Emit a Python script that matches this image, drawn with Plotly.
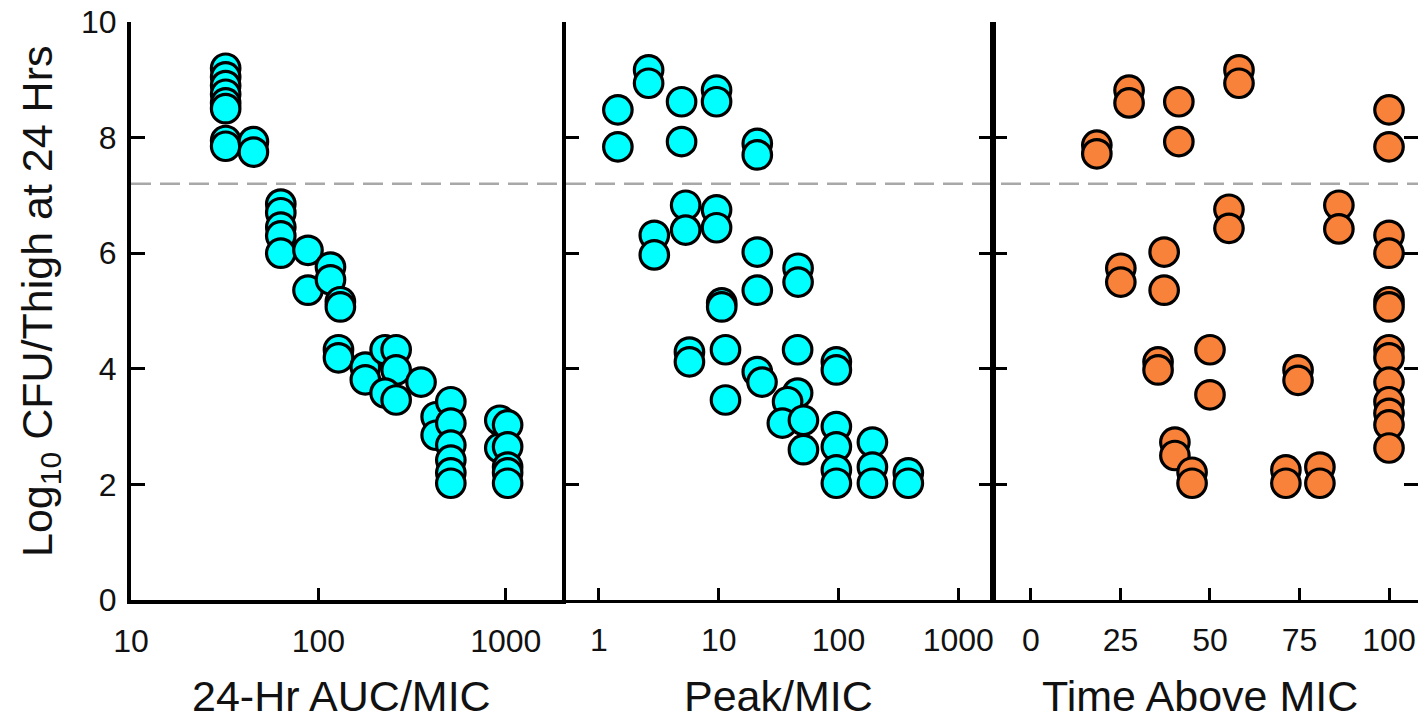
import plotly.graph_objects as go

# 24-Hr AUC/MIC panel
auc_x = [32, 32, 32, 32, 32, 32, 32, 32, 45, 45, 63, 63, 63, 63, 63, 88, 88, 116, 116,
         131, 131, 128, 128, 178, 178, 227, 260, 260, 227, 260, 353, 425, 425,
         509, 509, 509, 509, 509, 509, 929, 929, 1023, 1023, 1023, 1023, 1023]
auc_y = [9.2, 9.05, 8.9, 8.75, 8.6, 8.5, 7.95, 7.85, 7.93, 7.75, 6.85, 6.7, 6.45, 6.3, 6.0,
         6.05, 5.36, 5.76, 5.54, 5.16, 5.07, 4.33, 4.19, 4.03, 3.81, 4.33, 4.33, 3.98, 3.58,
         3.46, 3.77, 3.17, 2.85, 3.43, 3.06, 2.68, 2.42, 2.2, 2.02, 3.11, 2.63,
         3.03, 2.65, 2.3, 2.2, 2.02]

# Peak/MIC panel
peak_x = [1.44, 1.44, 2.6, 2.6, 4.9, 4.9, 9.6, 9.6, 21, 21, 5.3, 5.3, 2.9, 2.9, 9.6, 9.6,
          21, 21, 46, 46, 10.6, 10.6, 5.7, 5.7, 11.4, 11.4, 21, 23, 45.6, 45.6,
          37.6, 34, 51, 51, 96, 96, 96, 96, 96, 96, 192, 192, 192, 383, 383]
peak_y = [8.48, 7.84, 9.17, 8.94, 8.62, 7.93, 8.82, 8.62, 7.9, 7.7, 6.83, 6.4, 6.31, 5.97,
          6.75, 6.44, 6.02, 5.36, 5.74, 5.5, 5.14, 5.07, 4.29, 4.12, 4.33, 3.46, 3.95, 3.77,
          4.33, 3.58, 3.43, 3.06, 3.11, 2.6, 4.12, 3.98, 3.0, 2.65, 2.25, 2.02,
          2.73, 2.3, 2.02, 2.2, 2.02]

# Time Above MIC panel (%)
tam_x = [18.4, 18.4, 27.4, 27.4, 41.3, 41.3, 58.1, 58.1, 100, 100, 55.3, 55.3, 86, 86,
         100, 100, 25.1, 25.1, 37.2, 37.2, 100, 100, 35.5, 35.5, 50, 50, 74.6, 74.6,
         40.2, 40.2, 45, 45, 71.2, 71.2, 80.7, 80.7, 100, 100, 100, 100, 100, 100, 100]
tam_y = [7.87, 7.72, 8.82, 8.6, 8.62, 7.93, 9.17, 8.94, 8.48, 7.84, 6.76, 6.43, 6.83, 6.42,
         6.31, 6.0, 5.74, 5.5, 6.02, 5.36, 5.16, 5.07, 4.12, 3.98, 4.33, 3.55, 3.98, 3.8,
         2.73, 2.5, 2.21, 2.02, 2.25, 2.02, 2.3, 2.02, 4.33, 4.19, 3.77, 3.43, 3.23, 3.03, 2.63]

stasis_level = 7.2

y_ticks = [0, 2, 4, 6, 8, 10]
auc_ticks = [10, 100, 1000]
peak_ticks = [1, 10, 100, 1000]
tam_ticks = [0, 25, 50, 75, 100]

x_titles = ["24-Hr AUC/MIC", "Peak/MIC", "Time Above MIC"]
y_title = "Log<sub>10</sub> CFU/Thigh at 24 Hrs"

W, H = 1418, 725
FONT = "Liberation Sans, Arial, sans-serif"
INK = "#111111"
CYAN = "#00FFFF"
ORANGE = "#F9823A"

def px(v):
    return v / W

def py(v):
    return (H - v) / H

y_dom = [py(600), py(22)]
dom1 = [px(131), px(562)]
dom2 = [px(565), px(993)]
dom3 = [px(993), 1.0]

marker_base = dict(size=28.5, line=dict(color="black", width=3.2))

fig = go.Figure()
fig.add_trace(go.Scatter(x=auc_x, y=auc_y, mode="markers", xaxis="x", yaxis="y",
                         marker=dict(color=CYAN, **marker_base), hoverinfo="x+y"))
fig.add_trace(go.Scatter(x=peak_x, y=peak_y, mode="markers", xaxis="x2", yaxis="y2",
                         marker=dict(color=CYAN, **marker_base), hoverinfo="x+y"))
fig.add_trace(go.Scatter(x=tam_x, y=tam_y, mode="markers", xaxis="x3", yaxis="y3",
                         marker=dict(color=ORANGE, **marker_base), hoverinfo="x+y"))
# carrier for the right-hand tick axis of the last panel
fig.add_trace(go.Scatter(x=[None], y=[None], mode="markers", xaxis="x3", yaxis="y4",
                         hoverinfo="skip", showlegend=False))

tickfont = dict(family=FONT, size=32, color=INK)

def xaxis(dom, anchor, rng, vals, log, lw):
    ax = dict(domain=dom, anchor=anchor, range=rng, showgrid=False, zeroline=False,
              showline=True, linecolor="black", linewidth=lw, ticks="inside",
              ticklen=12, tickwidth=3, tickcolor="black", tickvals=vals,
              ticktext=[str(v) for v in vals], tickfont=tickfont,
              ticklabelstandoff=10, automargin=False, fixedrange=True)
    if log:
        ax["type"] = "log"
    return ax

def yaxis(dom_anchor, labels, mirror, lw):
    return dict(domain=y_dom, anchor=dom_anchor, range=[0, 10], showgrid=False,
                zeroline=False, showline=True, linecolor="black", linewidth=lw,
                ticks="inside", ticklen=14, tickwidth=3, tickcolor="black",
                tickvals=y_ticks, ticktext=[str(v) for v in y_ticks],
                showticklabels=labels, tickfont=tickfont, mirror=mirror,
                ticklabelstandoff=4, automargin=False, fixedrange=True)

fig.update_layout(
    width=W, height=H,
    margin=dict(l=0, r=0, t=0, b=0, autoexpand=False),
    paper_bgcolor="white", plot_bgcolor="white",
    showlegend=False,
    xaxis=xaxis(dom1, "y", [1.0, 3.3], auc_ticks, True, 4),
    xaxis2=xaxis(dom2, "y2", [-0.283, 3.29], peak_ticks, True, 3),
    xaxis3=xaxis(dom3, "y3", [-10.6, 108.1], tam_ticks, False, 3),
    yaxis=yaxis("x", True, True, 4),
    yaxis2=yaxis("x2", False, "ticks", 3),
    yaxis3=yaxis("x3", False, False, 3),
    yaxis4=dict(overlaying="y3", anchor="free", position=1.0, side="right",
                range=[0, 10], showgrid=False, zeroline=False, showline=False,
                ticks="inside", ticklen=14, tickwidth=3, tickcolor="black",
                tickvals=y_ticks, showticklabels=False, automargin=False,
                fixedrange=True),
)

# dashed reference line across all three panels
fig.add_shape(type="line", xref="paper", yref="y", x0=px(131), x1=1.0,
              y0=stasis_level, y1=stasis_level, layer="below",
              line=dict(color="#a8a8a8", width=2.5, dash="20px,9px"))

title_font = dict(family=FONT, size=43, color=INK)
for cx, t in zip([341, 778, 1200], x_titles):
    fig.add_annotation(text=t, xref="paper", yref="paper", x=px(cx), y=py(696),
                       showarrow=False, font=title_font, xanchor="center", yanchor="middle")

fig.add_annotation(text=y_title, xref="paper", yref="paper", x=px(40), y=py(302),
                   showarrow=False, font=title_font, textangle=-90,
                   xanchor="center", yanchor="middle")

fig.write_html("out.html")
